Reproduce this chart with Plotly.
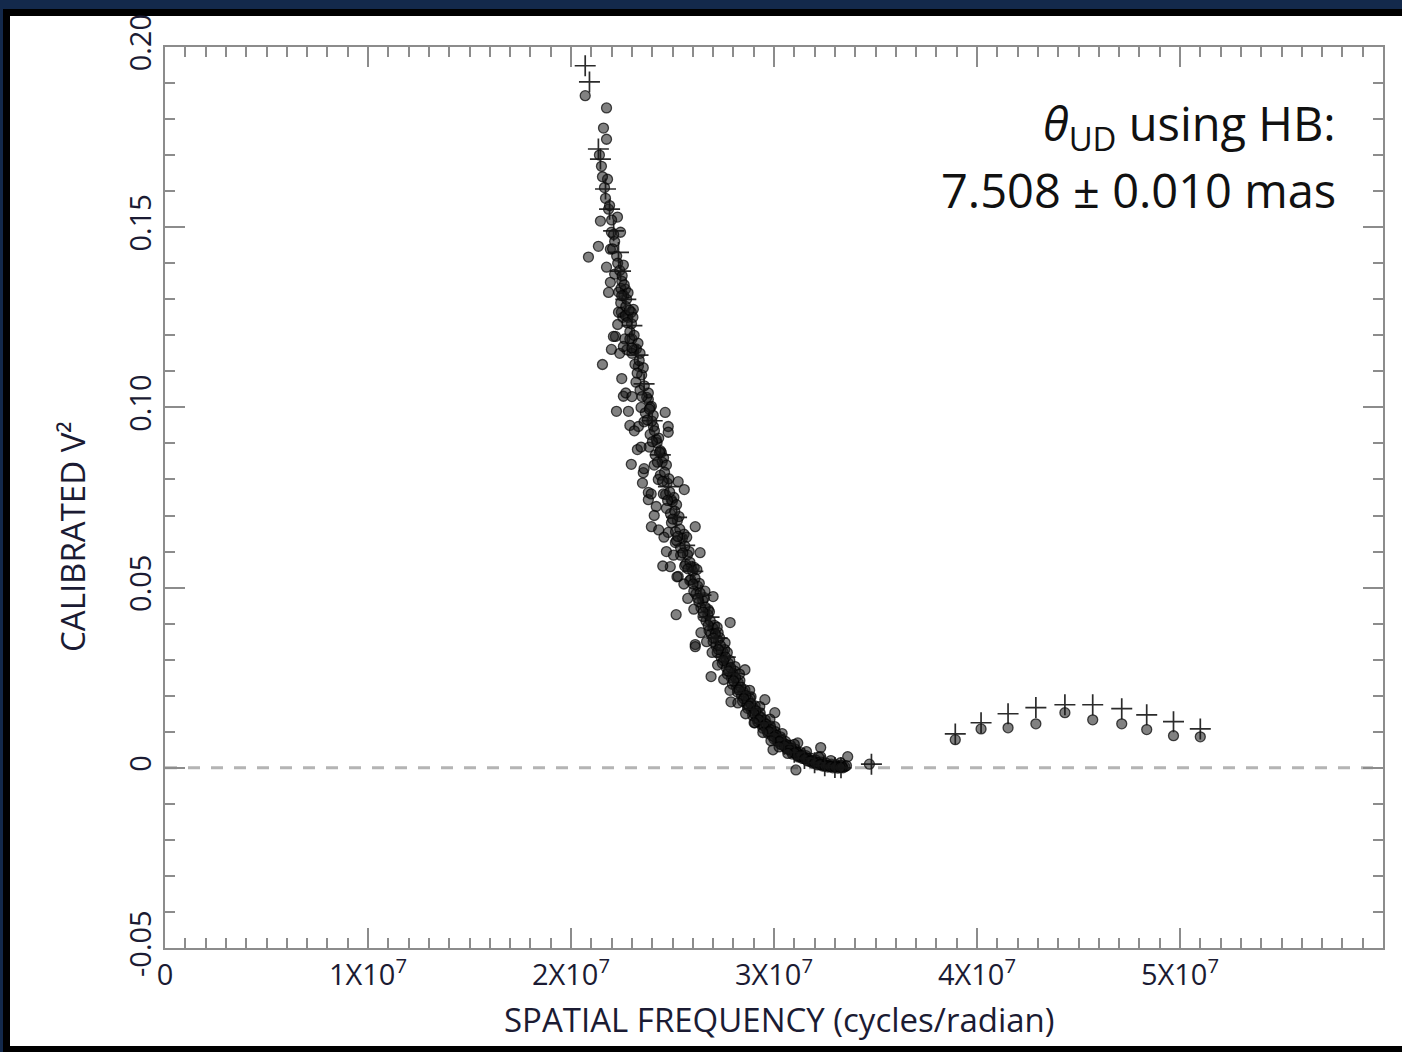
import plotly.graph_objects as go

# ---------------- data (x in units of 1e7 cycles/radian) ----------------
X_UNIT = 1e7

data_main_pairs = [
    (2.070, 0.1865), (2.175, 0.1831), (2.160, 0.1775), (2.175, 0.1744), (2.150, 0.1669),
    (2.180, 0.1633), (2.185, 0.1550), (2.190, 0.1560), (2.229, 0.1528), (2.145, 0.1517),
    (2.199, 0.1486), (2.244, 0.1486), (2.135, 0.1447), (2.086, 0.1417), (2.194, 0.1439),
    (2.175, 0.1389), (2.194, 0.1347), (2.185, 0.1319), (2.268, 0.1328), (2.248, 0.1264),
    (2.307, 0.1272), (2.219, 0.1197),
    (2.140, 0.1700), (2.155, 0.1640), (2.165, 0.1610), (2.170, 0.1580), (2.200, 0.1520),
    (2.210, 0.1480), (2.215, 0.1460), (2.205, 0.1440), (2.225, 0.1420), (2.230, 0.1400),
    (2.215, 0.1370), (2.240, 0.1380), (2.250, 0.1350), (2.235, 0.1320), (2.260, 0.1310),
    (2.245, 0.1290), (2.270, 0.1280), (2.255, 0.1250), (2.280, 0.1250), (2.230, 0.1230),
    (2.290, 0.1210), (2.265, 0.1190), (2.300, 0.1190), (2.275, 0.1160), (2.240, 0.1150),
    (2.310, 0.1160),
    (2.234, 0.1264), (2.297, 0.1264), (2.209, 0.1197), (2.199, 0.1161), (2.155, 0.1119),
    (2.258, 0.1169), (2.332, 0.1114), (2.258, 0.1031), (2.224, 0.0989), (2.283, 0.0989),
    (2.381, 0.1022), (2.464, 0.0986), (2.396, 0.1003), (2.406, 0.0947), (2.479, 0.0947),
    (2.479, 0.0931), (2.332, 0.0947), (2.327, 0.0883), (2.420, 0.0911), (2.297, 0.0842),
    (2.356, 0.0819), (2.445, 0.0875), (2.528, 0.0794), (2.558, 0.0772), (2.381, 0.0764),
    (2.381, 0.0744), (2.420, 0.0725), (2.494, 0.0744), (2.396, 0.0669), (2.612, 0.0669),
    (2.479, 0.0653), (2.514, 0.0625), (2.636, 0.0597), (2.489, 0.0558), (2.528, 0.0531),
    (2.592, 0.0558), (2.700, 0.0475), (2.518, 0.0425), (2.676, 0.0439), (2.784, 0.0403),
    (2.612, 0.0342), (2.759, 0.0347),
    (2.612, 0.0336), (2.690, 0.0253), (2.788, 0.0183), (2.857, 0.0272), (2.955, 0.0189),
    (3.004, 0.0153), (2.906, 0.0125), (2.995, 0.0050), (3.108, -0.0006), (3.230, 0.0056),
    (3.363, 0.0031), (2.725, 0.0375), (2.808, 0.0281), (2.887, 0.0197), (3.004, 0.0114),
    (3.117, 0.0069), (3.230, 0.0031), (3.328, 0.0014), (3.470, 0.0010),
    (2.252, 0.1365), (2.246, 0.1330), (2.258, 0.1395), (2.274, 0.1300), (2.268, 0.1255),
    (2.281, 0.1318), (2.298, 0.1232), (2.290, 0.1190), (2.305, 0.1250), (2.322, 0.1162),
    (2.315, 0.1120), (2.330, 0.1178), (2.348, 0.1090), (2.340, 0.1048), (2.356, 0.1110),
    (2.373, 0.1028), (2.366, 0.0985), (2.381, 0.1040), (2.398, 0.0962), (2.390, 0.0925),
    (2.405, 0.0978), (2.424, 0.0902), (2.415, 0.0868), (2.432, 0.0915), (2.449, 0.0848),
    (2.440, 0.0812), (2.456, 0.0860), (2.474, 0.0790), (2.466, 0.0758), (2.482, 0.0802),
    (2.499, 0.0738), (2.490, 0.0705), (2.507, 0.0750), (2.524, 0.0686), (2.515, 0.0655),
    (2.532, 0.0697), (2.549, 0.0637), (2.540, 0.0610), (2.557, 0.0648), (2.574, 0.0591),
    (2.565, 0.0565), (2.582, 0.0600), (2.599, 0.0546), (2.590, 0.0522), (2.607, 0.0556),
    (2.624, 0.0504), (2.615, 0.0482), (2.632, 0.0512), (2.649, 0.0464), (2.640, 0.0444),
    (2.657, 0.0472), (2.674, 0.0425), (2.665, 0.0407), (2.682, 0.0433), (2.699, 0.0388),
    (2.690, 0.0372), (2.707, 0.0395), (2.724, 0.0354), (2.715, 0.0338), (2.732, 0.0361),
    (2.749, 0.0321), (2.740, 0.0306), (2.757, 0.0328), (2.774, 0.0291), (2.765, 0.0278),
    (2.782, 0.0298), (2.799, 0.0262), (2.790, 0.0250), (2.807, 0.0268), (2.824, 0.0236),
    (2.815, 0.0224), (2.832, 0.0242), (2.849, 0.0210), (2.840, 0.0200), (2.857, 0.0216),
    (2.874, 0.0187), (2.865, 0.0178), (2.882, 0.0193), (2.899, 0.0166), (2.890, 0.0158),
    (2.907, 0.0172), (2.924, 0.0146), (2.915, 0.0138), (2.932, 0.0152), (2.949, 0.0127),
    (2.940, 0.0120), (2.957, 0.0133), (2.974, 0.0110), (2.965, 0.0104), (2.982, 0.0116),
    (2.999, 0.0095), (2.990, 0.0089), (3.007, 0.0100), (3.024, 0.0081), (3.015, 0.0076),
    (3.032, 0.0086), (3.049, 0.0068), (3.040, 0.0063), (3.057, 0.0073), (3.074, 0.0057),
    (3.065, 0.0052), (3.082, 0.0062), (3.099, 0.0047), (3.090, 0.0043), (3.107, 0.0051),
    (3.124, 0.0038), (3.115, 0.0034), (3.132, 0.0042), (3.149, 0.0030), (3.140, 0.0026),
    (3.157, 0.0034), (3.174, 0.0023), (3.165, 0.0019), (3.182, 0.0027), (3.199, 0.0017),
    (3.190, 0.0013), (3.207, 0.0021), (3.224, 0.0012), (3.215, 0.0008), (3.232, 0.0016),
    (3.249, 0.0009), (3.240, 0.0005), (3.257, 0.0013), (3.274, 0.0006), (3.265, 0.0002),
    (3.282, 0.0010), (3.299, 0.0004), (3.290, 0.0000), (3.307, 0.0008), (3.324, 0.0003),
    (3.315, -0.0001), (3.332, 0.0007), (3.349, 0.0003), (3.340, 0.0000), (3.357, 0.0006),
    (2.300, 0.1150), (2.320, 0.1070), (2.345, 0.1000), (2.360, 0.0960), (2.385, 0.0890),
    (2.410, 0.0840), (2.430, 0.0800), (2.455, 0.0760), (2.470, 0.0720), (2.495, 0.0680),
    (2.520, 0.0630), (2.540, 0.0590), (2.560, 0.0560), (2.585, 0.0520), (2.605, 0.0490),
    (2.630, 0.0460), (2.650, 0.0420), (2.680, 0.0380), (2.700, 0.0350), (2.720, 0.0320),
    (2.745, 0.0290), (2.770, 0.0260), (2.795, 0.0232), (2.820, 0.0210), (2.845, 0.0185),
    (2.870, 0.0165), (2.895, 0.0145), (2.920, 0.0128), (2.945, 0.0110), (2.970, 0.0096),
    (3.000, 0.0080), (3.030, 0.0066), (3.060, 0.0054), (3.090, 0.0038), (3.120, 0.0030),
    (2.340, 0.1150), (2.390, 0.1000), (2.440, 0.0880), (2.470, 0.0840), (2.520, 0.0730),
    (2.570, 0.0640), (2.620, 0.0550), (2.660, 0.0490), (2.720, 0.0390), (2.770, 0.0320),
    (2.830, 0.0260), (2.880, 0.0215), (2.930, 0.0170), (2.980, 0.0135), (3.040, 0.0095),
    (3.100, 0.0065), (3.160, 0.0045), (3.220, 0.0030), (3.280, 0.0020),
    (2.262, 0.1340), (2.250, 0.1310), (2.287, 0.1270), (2.276, 0.1235), (2.311, 0.1200),
    (2.300, 0.1165), (2.336, 0.1130), (2.326, 0.1095), (2.361, 0.1060), (2.350, 0.1030),
    (2.386, 0.0995), (2.376, 0.0965), (2.411, 0.0935), (2.401, 0.0905), (2.436, 0.0875),
    (2.426, 0.0848), (2.461, 0.0820), (2.451, 0.0795), (2.486, 0.0765), (2.476, 0.0742),
    (2.511, 0.0712), (2.501, 0.0690), (2.536, 0.0662), (2.526, 0.0642), (2.561, 0.0615),
    (2.551, 0.0596), (2.586, 0.0570), (2.576, 0.0552), (2.611, 0.0526), (2.601, 0.0510),
    (2.636, 0.0485), (2.626, 0.0470), (2.661, 0.0446), (2.651, 0.0432), (2.686, 0.0408),
    (2.676, 0.0395), (2.711, 0.0372), (2.701, 0.0360), (2.736, 0.0339), (2.726, 0.0328),
    (2.761, 0.0307), (2.751, 0.0297), (2.786, 0.0278), (2.776, 0.0268), (2.811, 0.0250),
    (2.801, 0.0241), (2.836, 0.0224), (2.826, 0.0216), (2.861, 0.0200), (2.851, 0.0192),
    (2.886, 0.0178), (2.876, 0.0171), (2.911, 0.0158), (2.901, 0.0151), (2.936, 0.0139),
    (2.926, 0.0133), (2.961, 0.0121), (2.951, 0.0116), (2.986, 0.0105), (2.976, 0.0100),
    (3.011, 0.0090), (3.001, 0.0086), (3.036, 0.0077), (3.026, 0.0073), (3.061, 0.0064),
    (3.051, 0.0061), (3.086, 0.0053), (3.076, 0.0050), (3.111, 0.0043), (3.101, 0.0041),
    (3.136, 0.0034), (3.126, 0.0032), (3.161, 0.0027), (3.151, 0.0025), (3.186, 0.0020),
    (3.176, 0.0018), (3.211, 0.0015), (3.201, 0.0013), (3.236, 0.0010), (3.226, 0.0009),
    (3.261, 0.0007), (3.251, 0.0005), (3.286, 0.0005), (3.276, 0.0003), (3.311, 0.0003),
    (3.301, 0.0002), (3.336, 0.0002), (3.326, 0.0001),
    (2.250, 0.1080), (2.270, 0.1040), (2.290, 0.0950), (2.312, 0.0935), (2.300, 0.1030),
    (2.345, 0.0890), (2.360, 0.0830), (2.352, 0.0790), (2.395, 0.0760), (2.410, 0.0700),
    (2.432, 0.0660), (2.458, 0.0640), (2.470, 0.0600), (2.452, 0.0560), (2.505, 0.0590),
    (2.522, 0.0530), (2.556, 0.0510), (2.575, 0.0470), (2.605, 0.0440), (2.640, 0.0375),
    (2.668, 0.0350), (2.695, 0.0320), (2.722, 0.0285), (2.752, 0.0245), (2.783, 0.0215),
    (2.822, 0.0180), (2.860, 0.0150), (2.902, 0.0125), (2.945, 0.0098), (2.985, 0.0075),
    (3.025, 0.0058), (3.068, 0.0040),
]

# second-lobe measurements (circles)
lobe2_x = [3.893, 4.020, 4.153, 4.290, 4.433, 4.570, 4.713, 4.836, 4.968, 5.100]
lobe2_y = [0.0078, 0.0108, 0.0111, 0.0122, 0.0153, 0.0133, 0.0122, 0.0106, 0.0089, 0.0086]

# uniform-disk model values (plus signs)
model_x = [2.070, 2.091, 2.135, 2.145, 2.170, 2.190, 2.210, 2.234, 2.244, 2.270, 2.300,
           2.330, 2.360, 2.400, 2.440, 2.480, 2.520, 2.560, 2.600, 2.640, 2.680, 2.720,
           2.760, 2.800, 2.850, 2.900, 2.950, 3.000, 3.050, 3.100, 3.150, 3.200, 3.250,
           3.300, 3.330, 3.480,
           3.893, 4.020, 4.153, 4.290, 4.433, 4.570, 4.713, 4.836, 4.968, 5.100]
model_y = [0.1948, 0.1903, 0.1717, 0.1689, 0.1606, 0.1550, 0.1490, 0.1430, 0.1378, 0.1300, 0.1227,
           0.1145, 0.1065, 0.0963, 0.0868, 0.0780, 0.0695, 0.0617, 0.0545, 0.0479, 0.0418, 0.0360,
           0.0307, 0.0261, 0.0209, 0.0163, 0.0124, 0.0092, 0.0065, 0.0043, 0.0026, 0.0014, 0.0006,
           0.0001, 0.0000, 0.0010,
           0.0094, 0.0125, 0.0150, 0.0167, 0.0175, 0.0175, 0.0164, 0.0147, 0.0128, 0.0108]

x_tick_vals = [0, 1, 2, 3, 4, 5]
x_tick_text = ["0", "1X10<sup>7</sup>", "2X10<sup>7</sup>", "3X10<sup>7</sup>",
               "4X10<sup>7</sup>", "5X10<sup>7</sup>"]
y_tick_vals = [-0.05, 0.0, 0.05, 0.10, 0.15, 0.20]
y_tick_text = ["-0.05", "0", "0.05", "0.10", "0.15", "0.20"]

x_title = "SPATIAL FREQUENCY (cycles/radian)"
y_title = "CALIBRATED V²"
note_line1 = "<i>θ</i><sub>UD</sub> using HB:"
note_line2 = "7.508 ± 0.010 mas"

# ---------------- layout geometry ----------------
W, H = 1402, 1052
L, R, T, B = 165, 19, 47, 104
PW, PH = W - L - R, H - T - B


def px_x(px):
    return (px - L) / PW


def px_y(py):
    return (H - B - py) / PH


FONT = "Open Sans"
TXT = "#1b1b33"
AXC = "#8c8c8c"

main_x = [p[0] * X_UNIT for p in data_main_pairs]
main_y = [p[1] for p in data_main_pairs]

fig = go.Figure()
fig.add_trace(go.Scatter(
    x=main_x + [v * X_UNIT for v in lobe2_x], y=main_y + lobe2_y,
    mode="markers",
    marker=dict(symbol="circle", size=10, color="rgba(25,25,25,0.55)",
                line=dict(color="rgba(0,0,0,0.7)", width=1.3)),
    hoverinfo="skip"))
fig.add_trace(go.Scatter(
    x=[v * X_UNIT for v in model_x], y=model_y,
    mode="markers",
    marker=dict(symbol="cross-thin", size=15, color="rgba(20,20,20,0.9)",
                line=dict(color="rgba(20,20,20,0.9)", width=1.7)),
    hoverinfo="skip"))

axis_common = dict(showline=True, linecolor=AXC, linewidth=2, mirror="ticks",
                   ticks="inside", ticklen=20, tickwidth=1.5, tickcolor=AXC,
                   showgrid=False, zeroline=False,
                   tickfont=dict(family=FONT, size=29, color=TXT))

fig.update_xaxes(range=[0, 6e7], tickvals=[v * X_UNIT for v in x_tick_vals],
                 ticktext=x_tick_text,
                 minor=dict(dtick=1e6, ticks="inside", ticklen=10, tickwidth=1.5,
                            tickcolor=AXC, showgrid=False),
                 **axis_common)
fig.update_yaxes(range=[-0.05, 0.20], tickvals=y_tick_vals, ticktext=y_tick_text,
                 tickangle=-90,
                 minor=dict(dtick=0.01, ticks="inside", ticklen=10, tickwidth=1.5,
                            tickcolor=AXC, showgrid=False),
                 **axis_common)

shapes = [
    # zero reference line
    dict(type="line", xref="paper", yref="y", x0=0, x1=1, y0=0, y1=0,
         line=dict(color="#b4b4b4", width=3, dash="12px,11px"), layer="below"),
    # slide frame
    dict(type="rect", xref="paper", yref="paper", x0=px_x(0), x1=px_x(W + 5),
         y0=px_y(-5), y1=px_y(9), fillcolor="#13294b", line=dict(width=0), layer="below"),
    dict(type="rect", xref="paper", yref="paper", x0=px_x(-5), x1=px_x(3),
         y0=px_y(-5), y1=px_y(H + 5), fillcolor="#13294b", line=dict(width=0), layer="below"),
    dict(type="rect", xref="paper", yref="paper", x0=px_x(3), x1=px_x(W + 5),
         y0=px_y(9), y1=px_y(16), fillcolor="#000000", line=dict(width=0), layer="below"),
    dict(type="rect", xref="paper", yref="paper", x0=px_x(3), x1=px_x(10),
         y0=px_y(9), y1=px_y(H + 5), fillcolor="#000000", line=dict(width=0), layer="below"),
    dict(type="rect", xref="paper", yref="paper", x0=px_x(3), x1=px_x(W + 5),
         y0=px_y(1046), y1=px_y(H + 5), fillcolor="#000000", line=dict(width=0), layer="below"),
]

annotations = [
    dict(text=x_title, xref="paper", yref="paper", x=px_x(779), y=px_y(1019),
         xanchor="center", yanchor="middle", showarrow=False,
         font=dict(family=FONT, size=33, color=TXT)),
    dict(text=y_title, xref="paper", yref="paper", x=px_x(72), y=px_y(537),
         xanchor="center", yanchor="middle", textangle=-90, showarrow=False,
         font=dict(family=FONT, size=33, color=TXT)),
    dict(text=note_line1, xref="paper", yref="paper", x=px_x(1338), y=px_y(126),
         xanchor="right", yanchor="middle", showarrow=False,
         font=dict(family=FONT, size=47, color="#111111")),
    dict(text=note_line2, xref="paper", yref="paper", x=px_x(1338), y=px_y(190),
         xanchor="right", yanchor="middle", showarrow=False,
         font=dict(family=FONT, size=47, color="#111111")),
]

fig.update_layout(
    width=W, height=H,
    margin=dict(l=L, r=R, t=T, b=B, pad=0),
    paper_bgcolor="white", plot_bgcolor="white",
    showlegend=False, hovermode=False,
    shapes=shapes, annotations=annotations,
)

fig.write_html("out.html", config={"displayModeBar": False},
               post_script="document.body.style.margin='0';document.body.style.overflow='hidden';")
